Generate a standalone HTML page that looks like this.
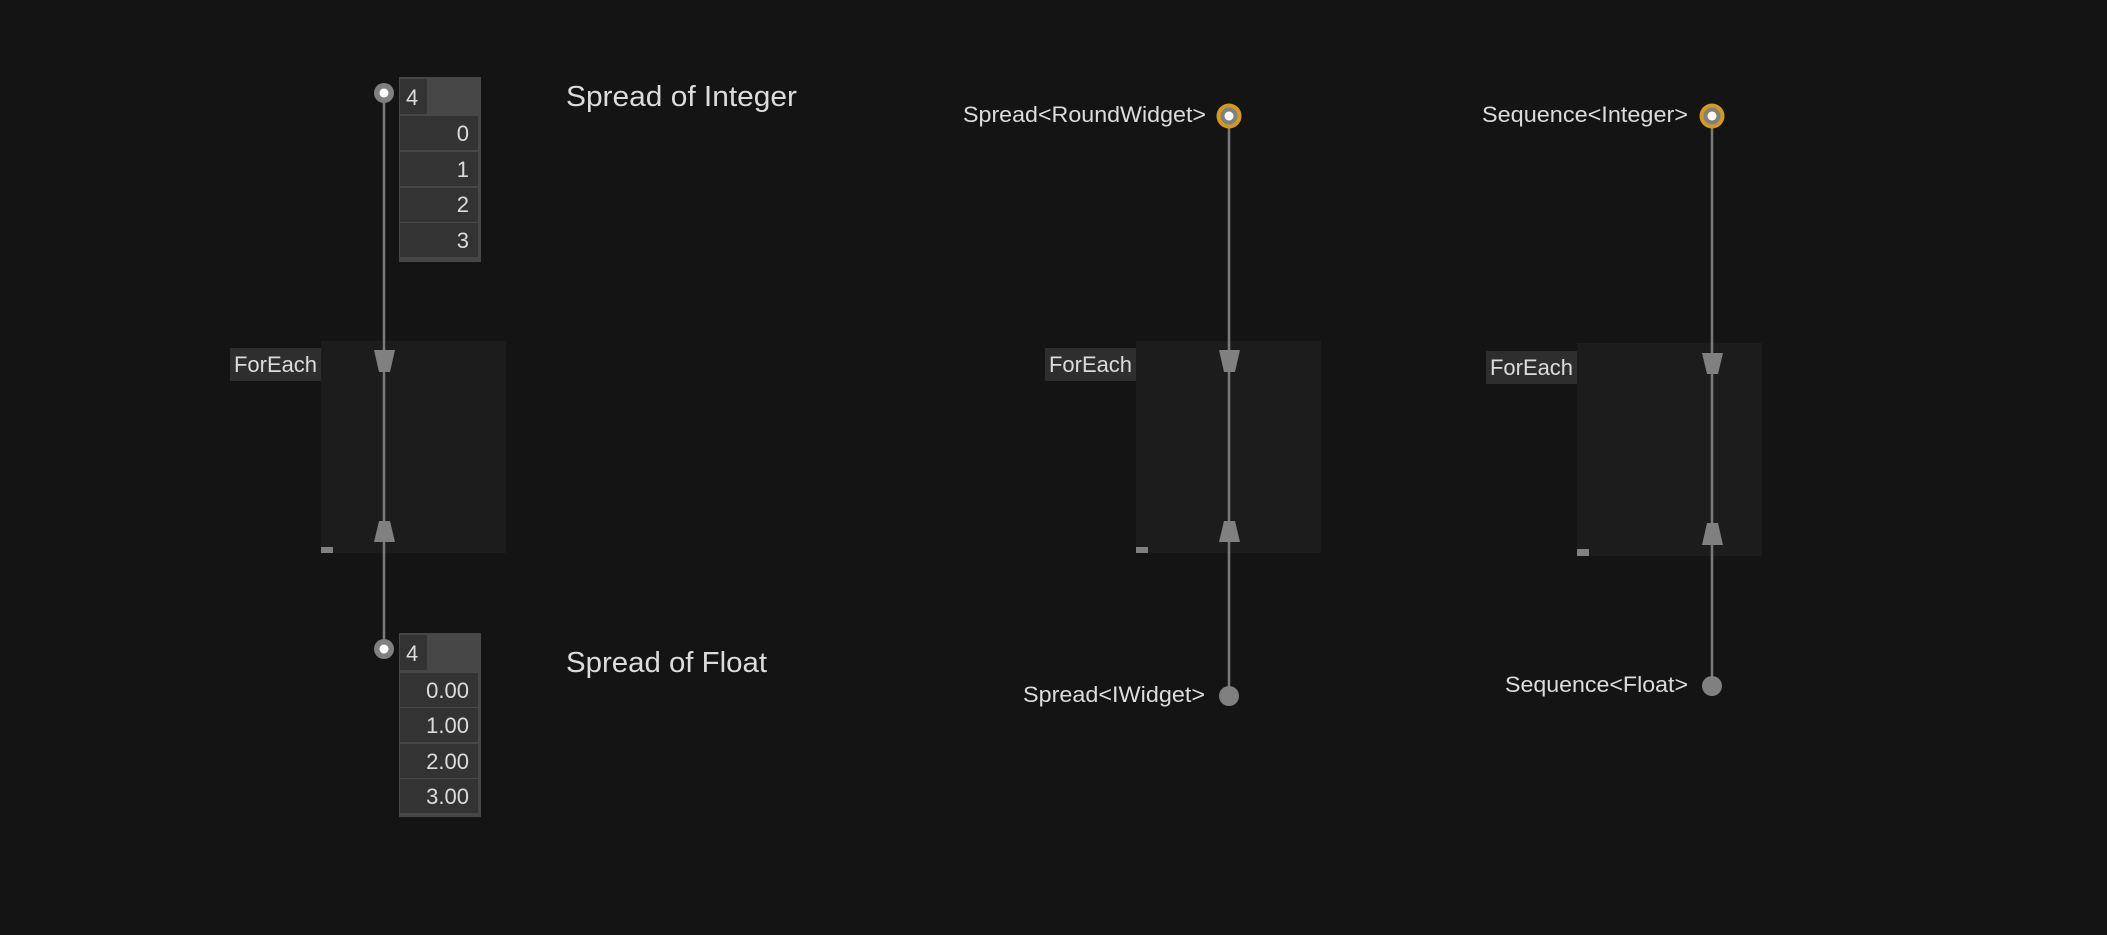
<!DOCTYPE html>
<html><head><meta charset="utf-8"><style>
html,body{margin:0;padding:0;background:#141414;}
svg{display:block}
text{font-family:"Liberation Sans",sans-serif;fill:#dcdcdc}
</style></head><body>
<svg width="2107" height="935" viewBox="0 0 2107 935" xmlns="http://www.w3.org/2000/svg">
<rect width="2107" height="935" fill="#141414"/>

<!-- ===== Column 1 ===== -->
<rect x="321" y="341" width="185" height="212" fill="#1c1c1c"/>
<rect x="230" y="348" width="91" height="33" fill="#2e2e2e"/>
<text x="234" y="372" font-size="22" textLength="83" lengthAdjust="spacingAndGlyphs">ForEach</text>
<rect x="321" y="547" width="12" height="6" fill="#808080"/>
<line x1="384" y1="93" x2="384" y2="649" stroke="#7a7a7a" stroke-width="2.5"/>
<polygon points="374,350 395,350 390,372 379,372" fill="#808080"/>
<polygon points="379,521 390,521 395,542 374,542" fill="#808080"/>
<circle cx="384" cy="93" r="10" fill="#808080"/><circle cx="384" cy="93" r="4.5" fill="#fff"/>
<circle cx="384" cy="649" r="10" fill="#808080"/><circle cx="384" cy="649" r="4.5" fill="#fff"/>

<!-- integer spread -->
<rect x="399" y="77" width="82" height="185" fill="#474747"/>
<rect x="400" y="79" width="27" height="35" fill="#333"/>
<text x="406" y="105" font-size="22">4</text>
<rect x="400" y="116" width="78" height="34" fill="#333"/>
<rect x="400" y="152" width="78" height="34" fill="#333"/>
<rect x="400" y="188" width="78" height="34" fill="#333"/>
<rect x="400" y="223" width="78" height="34" fill="#333"/>
<g font-size="22" text-anchor="end">
<text x="469" y="141">0</text><text x="469" y="177">1</text><text x="469" y="212">2</text><text x="469" y="248">3</text>
</g>
<text x="566" y="106" font-size="29" textLength="231" lengthAdjust="spacingAndGlyphs">Spread of Integer</text>

<!-- float spread -->
<rect x="399" y="633" width="82" height="184" fill="#474747"/>
<rect x="400" y="635" width="27" height="35" fill="#333"/>
<text x="406" y="661" font-size="22">4</text>
<rect x="400" y="673" width="78" height="34" fill="#333"/>
<rect x="400" y="708" width="78" height="34" fill="#333"/>
<rect x="400" y="744" width="78" height="34" fill="#333"/>
<rect x="400" y="779" width="78" height="34" fill="#333"/>
<g font-size="22" text-anchor="end">
<text x="469" y="698">0.00</text><text x="469" y="733">1.00</text><text x="469" y="769">2.00</text><text x="469" y="804">3.00</text>
</g>
<text x="566" y="672" font-size="29" textLength="201" lengthAdjust="spacingAndGlyphs">Spread of Float</text>

<!-- ===== Column 2 ===== -->
<rect x="1136" y="341" width="185" height="212" fill="#1c1c1c"/>
<rect x="1045" y="348" width="91" height="33" fill="#2e2e2e"/>
<text x="1049" y="372" font-size="22" textLength="83" lengthAdjust="spacingAndGlyphs">ForEach</text>
<rect x="1136" y="547" width="12" height="6" fill="#808080"/>
<line x1="1229" y1="116" x2="1229" y2="696" stroke="#7a7a7a" stroke-width="2.5"/>
<polygon points="1219,350 1240,350 1235,372 1224,372" fill="#808080"/>
<polygon points="1224,521 1235,521 1240,542 1219,542" fill="#808080"/>
<circle cx="1229" cy="116" r="12.5" fill="#d39a1c"/><circle cx="1229" cy="116" r="8.5" fill="#808080"/><circle cx="1229" cy="116" r="4.5" fill="#fff"/>
<circle cx="1229" cy="696" r="10" fill="#808080"/>
<text x="963" y="122" font-size="22" textLength="243" lengthAdjust="spacingAndGlyphs">Spread&lt;RoundWidget&gt;</text>
<text x="1023" y="702" font-size="22" textLength="182" lengthAdjust="spacingAndGlyphs">Spread&lt;IWidget&gt;</text>

<!-- ===== Column 3 ===== -->
<rect x="1577" y="343" width="185" height="213" fill="#1c1c1c"/>
<rect x="1486" y="351" width="91" height="33" fill="#2e2e2e"/>
<text x="1490" y="375" font-size="22" textLength="83" lengthAdjust="spacingAndGlyphs">ForEach</text>
<rect x="1577" y="549" width="12" height="7" fill="#808080"/>
<line x1="1712" y1="116" x2="1712" y2="686" stroke="#7a7a7a" stroke-width="2.5"/>
<polygon points="1702,353 1723,353 1718,374 1707,374" fill="#808080"/>
<polygon points="1707,523 1718,523 1723,545 1702,545" fill="#808080"/>
<circle cx="1712" cy="116" r="12.5" fill="#d39a1c"/><circle cx="1712" cy="116" r="8.5" fill="#808080"/><circle cx="1712" cy="116" r="4.5" fill="#fff"/>
<circle cx="1712" cy="686" r="10" fill="#808080"/>
<text x="1482" y="122" font-size="22" textLength="206" lengthAdjust="spacingAndGlyphs">Sequence&lt;Integer&gt;</text>
<text x="1505" y="692" font-size="22" textLength="183" lengthAdjust="spacingAndGlyphs">Sequence&lt;Float&gt;</text>
</svg>
</body></html>
